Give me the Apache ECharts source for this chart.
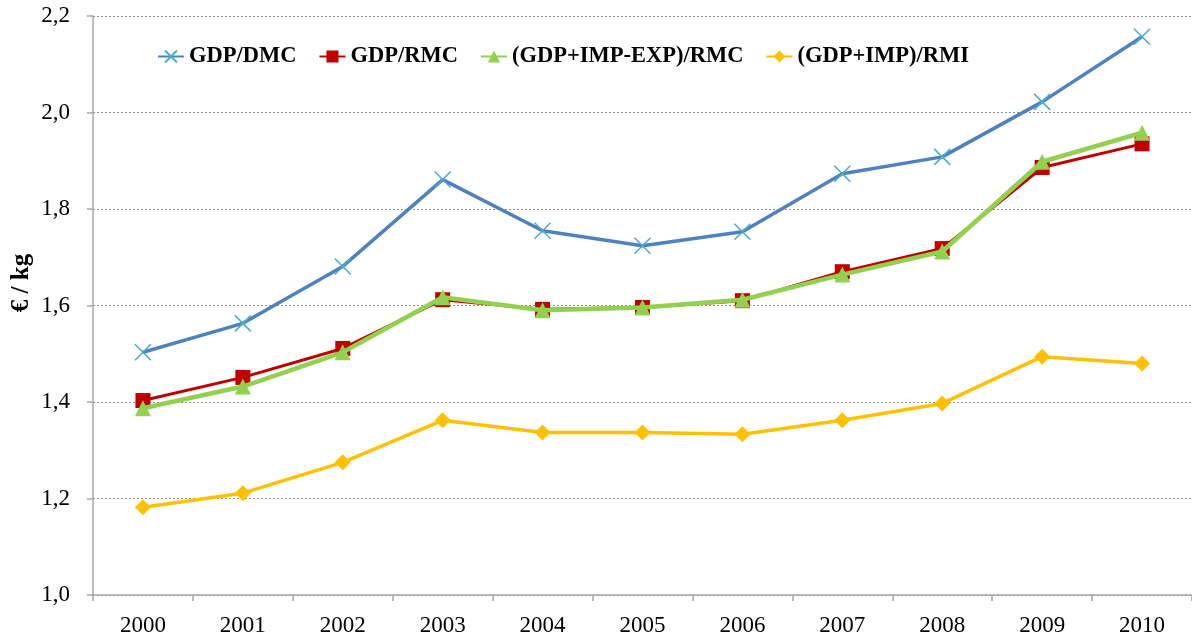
<!DOCTYPE html>
<html>
<head>
<meta charset="utf-8">
<script src="https://cdn.jsdelivr.net/npm/echarts@6/dist/echarts.min.js"></script>
<style>
  html, body { margin: 0; padding: 0; background: #fff; }
  #chart { width: 1192px; height: 637px; }
</style>
</head>
<body>
<div id="chart"></div>
<script>
// 年份
const years = ['2000', '2001', '2002', '2003', '2004', '2005', '2006', '2007', '2008', '2009', '2010']

// 各指标 (€ / kg)
const gdpDmc = [1.503, 1.563, 1.681, 1.861, 1.755, 1.724, 1.753, 1.873, 1.908, 2.022, 2.157]
const gdpRmc = [1.403, 1.451, 1.511, 1.612, 1.592, 1.596, 1.610, 1.670, 1.718, 1.886, 1.935]
const gdpImpExpRmc = [1.387, 1.432, 1.503, 1.617, 1.590, 1.596, 1.612, 1.664, 1.712, 1.898, 1.958]
const gdpImpRmi = [1.182, 1.211, 1.275, 1.362, 1.337, 1.337, 1.333, 1.362, 1.397, 1.494, 1.480]

const yTicks = { min: 1.0, max: 2.2, interval: 0.2 }

const font = '"Liberation Serif", "Times New Roman", serif'
const crossPath = 'path://M0,0L10,10M10,0L0,10'

const myChart = echarts.init(document.getElementById('chart'))

const mkSeries = (name, data, color, width, symbol, size, symColor, z) => ({
  name,
  type: 'line',
  data,
  z,
  symbol,
  symbolSize: size,
  showSymbol: true,
  lineStyle: { color, width },
  itemStyle: { color: symColor, borderColor: symColor, borderWidth: symbol === crossPath ? 1.5 : 0 },
  emphasis: { disabled: true }
})

myChart.setOption({
  animation: false,
  textStyle: { fontFamily: font },
  grid: { left: 93, top: 16, bottom: 41, width: 1106 },
  legend: {
    left: 152,
    top: 40,
    itemWidth: 26,
    itemHeight: 15,
    itemGap: 22,
    textStyle: { fontFamily: font, fontSize: 22.5, fontWeight: 'bold', color: '#000' },
    data: ['GDP/DMC', 'GDP/RMC', '(GDP+IMP-EXP)/RMC', '(GDP+IMP)/RMI']
  },
  graphic: [{
    type: 'text',
    x: 22,
    y: 283,
    rotation: Math.PI / 2,
    style: {
      text: '€ / kg',
      fontFamily: font,
      fontSize: 25,
      fontWeight: 'bold',
      fill: '#000',
      align: 'center',
      verticalAlign: 'middle'
    }
  }],
  xAxis: {
    type: 'category',
    data: years,
    boundaryGap: true,
    axisLine: { lineStyle: { color: '#A6A6A6', width: 1.5 } },
    axisTick: { show: true, length: 6, lineStyle: { color: '#A6A6A6', width: 1.5 } },
    axisLabel: { color: '#000', fontSize: 23, margin: 19, fontFamily: font }
  },
  yAxis: {
    type: 'value',
    min: yTicks.min,
    max: yTicks.max,
    interval: yTicks.interval,
    axisLine: { show: true, lineStyle: { color: '#A6A6A6', width: 1.5 } },
    axisTick: { show: true, length: 6, lineStyle: { color: '#A6A6A6', width: 1.5 } },
    axisLabel: {
      color: '#000',
      fontSize: 23,
      margin: 23,
      fontFamily: font,
      formatter: v => v.toFixed(1).replace('.', ',')
    },
    splitLine: { lineStyle: { color: '#8C8C8C', type: [2, 2], width: 1 } }
  },
  series: [
    mkSeries('GDP/DMC', gdpDmc, '#4F81BD', 3.5, crossPath, 16, '#4BACC6', 3),
    mkSeries('GDP/RMC', gdpRmc, '#C00000', 3, 'rect', 15, '#C00000', 4),
    mkSeries('(GDP+IMP-EXP)/RMC', gdpImpExpRmc, '#92D050', 4.5, 'triangle', 16, '#92D050', 5),
    mkSeries('(GDP+IMP)/RMI', gdpImpRmi, '#FFC000', 3.5, 'diamond', 16, '#FFC000', 2)
  ]
})
</script>
</body>
</html>
